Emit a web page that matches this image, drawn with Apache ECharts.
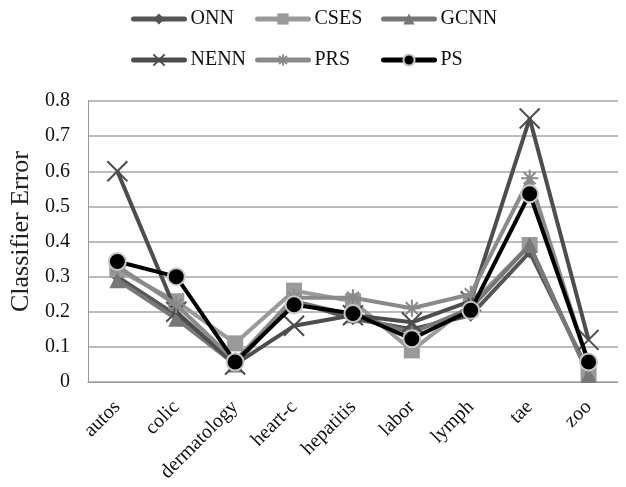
<!DOCTYPE html>
<html><head><meta charset="utf-8">
<script src="https://cdn.jsdelivr.net/npm/echarts@6/dist/echarts.min.js"></script>
<style>html,body{margin:0;padding:0;background:#fff}#c{width:626px;height:487px}</style>
</head><body><div id="c"></div>
<script>
var categories = ['autos','colic','dermatology','heart-c','hepatitis','labor','lymph','tae','zoo'];
var seriesNames = ['ONN','CSES','GCNN','NENN','PRS','PS'];
var ONN  = [0.30, 0.19, 0.05, 0.23, 0.18, 0.15, 0.19, 0.37, 0.03];
var CSES = [0.32, 0.23, 0.11, 0.26, 0.23, 0.09, 0.22, 0.39, 0.02];
var GCNN = [0.29, 0.18, 0.05, 0.23, 0.19, 0.14, 0.21, 0.39, 0.02];
var NENN = [0.60, 0.20, 0.05, 0.16, 0.19, 0.17, 0.23, 0.75, 0.12];
var PRS  = [0.33, 0.22, 0.06, 0.24, 0.24, 0.21, 0.25, 0.58, 0.05];
var PS   = [0.343, 0.30, 0.057, 0.22, 0.195, 0.123, 0.204, 0.536, 0.057];
var yTicks = [0, 0.1, 0.2, 0.3, 0.4, 0.5, 0.6, 0.7, 0.8];

var font = '"Liberation Serif", "Times New Roman", serif';
var xPath = 'path://M0,0L10,10M10,0L0,10';
var starPath = 'path://M5,0L5,10M0,5L10,5M1.5,1.5L8.5,8.5M8.5,1.5L1.5,8.5';

var styles = {
  ONN:  {color:'#555555', symbol:'diamond', size:13},
  CSES: {color:'#9a9a9a', symbol:'rect', size:16},
  GCNN: {color:'#777777', symbol:'triangle', size:16},
  NENN: {color:'#4d4d4d', symbol:xPath, size:20, stroke:true},
  PRS:  {color:'#8a8a8a', symbol:starPath, size:17, stroke:true},
  PS:   {color:'#000000', symbol:'circle', size:17, border:'#c8c8c8'}
};
var dataMap = {ONN:ONN, CSES:CSES, GCNN:GCNN, NENN:NENN, PRS:PRS, PS:PS};

var series = seriesNames.map(function(n, i){
  var s = styles[n];
  var item = {color:s.color};
  if (s.stroke) { item.borderColor = s.color; item.borderWidth = 2; }
  if (s.border) { item.borderColor = s.border; item.borderWidth = 2; }
  return {
    name:n, type:'line', data:dataMap[n],
    symbol:s.symbol, symbolSize:s.size, showAllSymbol:true,
    lineStyle:{color:s.color, width:4},
    itemStyle:item,
    z: 2 + i
  };
});

var legendPos = {
  ONN:[131,9], CSES:[255,9], GCNN:[381,9],
  NENN:[131,50], PRS:[255,50], PS:[381,50]
};
var legends = seriesNames.map(function(n){
  return {
    left:legendPos[n][0], top:legendPos[n][1], padding:0,
    data:[n], itemWidth:51, itemHeight:14, itemGap:0,
    lineStyle:{width:5, cap:'round'},
    textStyle:{fontFamily:font, fontSize:20, color:'#111', padding:[0,0,0,1]}
  };
});

var chart = echarts.init(document.getElementById('c'));
chart.setOption({
  animation:false,
  backgroundColor:'#fff',
  legend:legends,
  grid:{left:87, right:8, top:101, bottom:105},
  xAxis:{
    type:'category', data:categories, boundaryGap:true,
    axisLine:{lineStyle:{color:'#999', width:1}},
    axisTick:{show:false},
    axisLabel:{rotate:45, fontFamily:font, fontSize:20, color:'#111', margin:22, interval:0}
  },
  yAxis:{
    type:'value', min:0, max:0.8, interval:0.1,
    name:'Classifier Error', nameLocation:'middle', nameGap:48, nameRotate:90,
    nameTextStyle:{fontFamily:font, fontSize:26, color:'#222', padding:[0,0,0,20]},
    axisLine:{show:true, lineStyle:{color:'#999', width:1}},
    axisTick:{show:false},
    splitLine:{lineStyle:{color:'#a6a6a6', width:1.5}},
    axisLabel:{fontFamily:font, fontSize:20, color:'#111', margin:18,
      formatter:function(v){ var t = yTicks.find(function(x){return Math.abs(x-v)<1e-9;}); return t===0?'0':String(t); }}
  },
  series:series
});
</script></body></html>
